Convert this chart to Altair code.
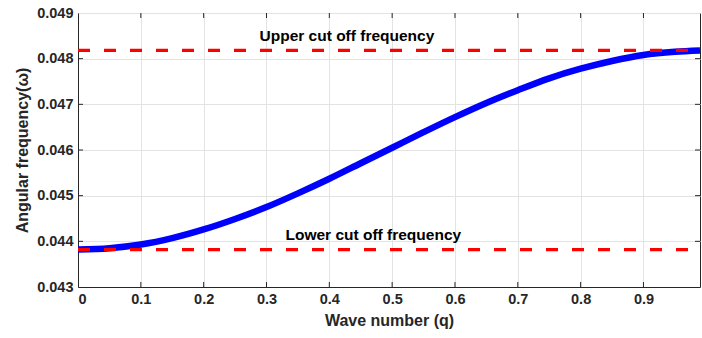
import altair as alt
import pandas as pd

# Dispersion curve
q_vals = [0.0, 0.05, 0.1, 0.15, 0.2, 0.25, 0.3, 0.35, 0.4, 0.45, 0.5,
          0.55, 0.6, 0.65, 0.7, 0.75, 0.8, 0.85, 0.9, 0.95, 0.99]
omega_vals = [0.04382, 0.04385, 0.04393, 0.04407, 0.04426, 0.04449, 0.04475,
              0.04505, 0.04537, 0.04571, 0.04605, 0.04639, 0.04672, 0.04703,
              0.04731, 0.04757, 0.04778, 0.04795, 0.04808, 0.04815, 0.04818]

lower_cut = 0.04382
upper_cut = 0.04818
cut_q = [0.0, 0.99]

x_ticks = [0, 0.1, 0.2, 0.3, 0.4, 0.5, 0.6, 0.7, 0.8, 0.9]
y_ticks = [0.043, 0.044, 0.045, 0.046, 0.047, 0.048, 0.049]

labels = ["Upper cut off frequency", "Lower cut off frequency"]
label_q = [0.428, 0.47]
label_w = [0.04838, 0.04404]

curve_df = pd.DataFrame({"q": q_vals, "w": omega_vals})
cut_df = pd.DataFrame({
    "q": cut_q + cut_q,
    "w": [upper_cut, upper_cut, lower_cut, lower_cut],
    "line": ["upper", "upper", "lower", "lower"],
})
label_df = pd.DataFrame({"q": label_q, "w": label_w, "t": labels})
xt_df = pd.DataFrame({"q": x_ticks[1:]})
yt_df = pd.DataFrame({"w": y_ticks[1:-1]})

FONT = "Liberation Sans"
DARK = "#262626"

xscale = alt.Scale(domain=[0, 0.99], nice=False, zero=False)
yscale = alt.Scale(domain=[0.043, 0.049], nice=False, zero=False)

x_axis = alt.Axis(
    values=x_ticks,
    labelExpr="datum.value == 0 ? '0' : format(datum.value, '.1f')",
    title="Wave number (q)",
    ticks=False,
    labelPadding=5,
    titlePadding=7,
)
y_axis = alt.Axis(
    values=y_ticks,
    format=".3f",
    title="Angular frequency(ω)",
    ticks=False,
    labelPadding=5,
    titlePadding=6,
)

curve = alt.Chart(curve_df).mark_line(
    color="#0000ff", strokeWidth=6.5, interpolate="monotone", clip=True
).encode(
    x=alt.X("q:Q", scale=xscale, axis=x_axis),
    y=alt.Y("w:Q", scale=yscale, axis=y_axis),
)

cuts = alt.Chart(cut_df).mark_line(
    color="#ff0000", strokeWidth=3.3, strokeDash=[12, 14], clip=True
).encode(
    x=alt.X("q:Q", scale=xscale),
    y=alt.Y("w:Q", scale=yscale),
    detail="line:N",
)

texts = alt.Chart(label_df).mark_text(
    font=FONT, fontSize=15.5, fontWeight="bold", color="#000000",
    align="center", baseline="alphabetic",
).encode(
    x=alt.X("q:Q", scale=xscale),
    y=alt.Y("w:Q", scale=yscale),
    text="t:N",
)

tick_style = dict(color=DARK, strokeWidth=1)
xt_bottom = alt.Chart(xt_df).mark_rule(**tick_style).encode(
    x=alt.X("q:Q", scale=xscale), y=alt.value(274), y2=alt.value(269))
xt_top = alt.Chart(xt_df).mark_rule(**tick_style).encode(
    x=alt.X("q:Q", scale=xscale), y=alt.value(0), y2=alt.value(5))
yt_left = alt.Chart(yt_df).mark_rule(**tick_style).encode(
    y=alt.Y("w:Q", scale=yscale), x=alt.value(0), x2=alt.value(5))
yt_right = alt.Chart(yt_df).mark_rule(**tick_style).encode(
    y=alt.Y("w:Q", scale=yscale), x=alt.value(622), x2=alt.value(617))

chart = alt.layer(
    curve, cuts, texts, xt_bottom, xt_top, yt_left, yt_right
).properties(
    width=622,
    height=274,
    autosize=alt.AutoSizeParams(type="none"),
    padding={"left": 78, "right": 2, "top": 13, "bottom": 51},
    background="#ffffff",
).configure_view(
    stroke=DARK, strokeWidth=1,
).configure_axis(
    labelFont=FONT, labelFontSize=14.5, labelFontWeight="bold", labelColor=DARK,
    titleFont=FONT, titleFontSize=16, titleFontWeight="bold", titleColor=DARK,
    domainColor=DARK, domainWidth=1,
    gridColor="#e3e3e3", gridWidth=1,
)

chart.save("out.html", embed_options={"renderer": "svg", "actions": False})
